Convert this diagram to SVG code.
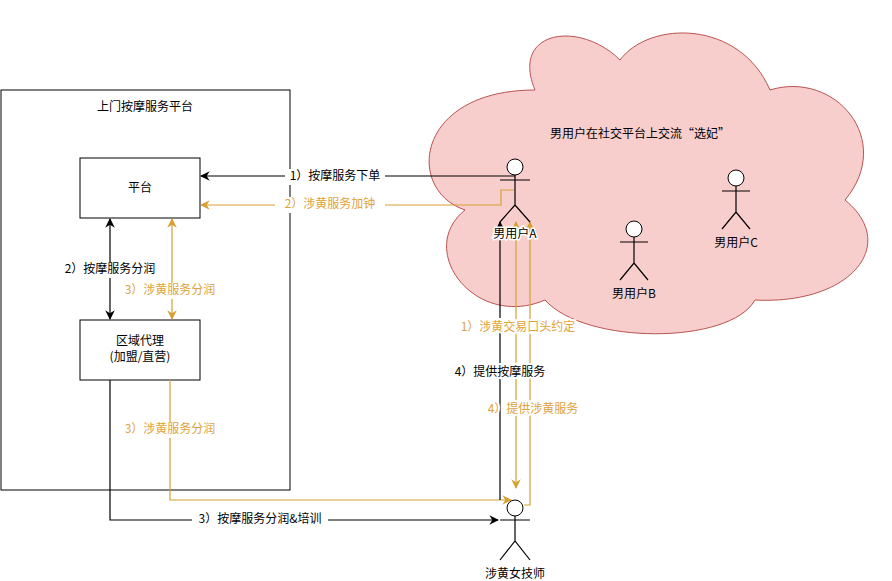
<svg xmlns="http://www.w3.org/2000/svg" width="892" height="581" viewBox="0 0 892 581">
<defs>
<style>
text{font-family:"Noto Sans CJK SC","Liberation Sans",sans-serif;font-size:12px;text-anchor:middle;dominant-baseline:middle}
.g{fill:#e0a33c}.k{fill:#000}
.box{fill:#fff;stroke:#000;stroke-width:1}
.lk{fill:none;stroke:#000;stroke-width:1.2}
.lg{fill:none;stroke:#d6a032;stroke-width:1.2}
.bg{fill:#fff}
.st{fill:none;stroke:#000;stroke-width:1.2}
</style>
<marker id="ak" viewBox="0 0 10 10" refX="9" refY="5" markerWidth="8" markerHeight="8" orient="auto-start-reverse"><path d="M0,0 L10,5 L0,10 L3,5z" fill="#000"/></marker>
<marker id="ag" viewBox="0 0 10 10" refX="9" refY="5" markerWidth="8" markerHeight="8" orient="auto-start-reverse"><path d="M0,0 L10,5 L0,10 L3,5z" fill="#d6a032"/></marker>
</defs>
<rect width="892" height="581" fill="#fff"/>
<g id="cloud">
<path d="M535,90 C415,90 405,190 465,210 C415,250 475,330 545,300 C585,345 730,345 755,300 C850,305 900,245 845,200 C895,140 835,70 770,90 C740,20 650,20 620,60 C580,20 510,30 535,90 Z" fill="#f8cecc" stroke="#b85450" stroke-width="1"/>
<text x="640" y="135">男用户在社交平台上交流“选妃”</text>
</g>
<g id="platform"><rect class="box" x="1" y="90" width="289" height="400"/><text x="145" y="108">上门按摩服务平台</text></g>
<g id="pingtai"><rect class="box" x="80" y="158" width="120" height="60"/><text x="140" y="189">平台</text></g>
<g id="agent"><rect class="box" x="80" y="320" width="120" height="60"/><text x="140" y="342">区域代理</text><text x="140" y="358">(加盟/直营)</text></g>
<g id="connectors">
<path class="lk" d="M515,176 H201" marker-end="url(#ak)"/>
<rect class="bg" x="285" y="169" width="100" height="16"/><text x="335" y="177">1）按摩服务下单</text>
<path class="lg" d="M514,190 H501 V205 H201" marker-end="url(#ag)"/>
<rect class="bg" x="275" y="197" width="110" height="16"/><text class="g" x="330" y="205">2）涉黄服务加钟</text>
<path class="lk" d="M110,219 V319" marker-start="url(#ak)" marker-end="url(#ak)"/>
<rect class="bg" x="60" y="262" width="100" height="16"/><text x="110" y="270">2）按摩服务分润</text>
<path class="lg" d="M172,219 V319" marker-start="url(#ag)" marker-end="url(#ag)"/>
<rect class="bg" x="115" y="283" width="110" height="16"/><text class="g" x="170" y="291">3）涉黄服务分润</text>
<path class="lk" d="M110,380 V520 H498" marker-end="url(#ak)"/>
<rect class="bg" x="192" y="512" width="136" height="16"/><text x="260" y="520">3）按摩服务分润&amp;培训</text>
<path class="lg" d="M170,380 V500 H511" marker-end="url(#ag)"/>
<rect class="bg" x="118" y="422" width="104" height="16"/><text class="g" x="170" y="430">3）涉黄服务分润</text>
<path class="lk" d="M500,500 V222" marker-end="url(#ak)"/>
<path class="lg" d="M516,222 V488" marker-start="url(#ag)" marker-end="url(#ag)"/>
<path class="lg" d="M524,505 H530 V222" marker-end="url(#ag)"/>
<text class="g" x="518" y="328" style="paint-order:stroke;stroke:#fff;stroke-width:4px">1）涉黄交易口头约定</text>
<text x="500" y="373" style="paint-order:stroke;stroke:#fff;stroke-width:4px">4）提供按摩服务</text>
<text class="g" x="533" y="410" style="paint-order:stroke;stroke:#fff;stroke-width:4px">4）提供涉黄服务</text>
</g>
<g id="userA"><circle cx="515" cy="167" r="8" fill="#fff" stroke="#000"/><path class="st" d="M515,175 V205 M500,180 H530 M500,222 L515,205 L530,222"/><text x="515" y="235" style="paint-order:stroke;stroke:#fff;stroke-width:3px">男用户A</text></g>
<g id="userB"><circle cx="634" cy="229" r="8" fill="#fff" stroke="#000"/><path class="st" d="M634,237 V263 M620,242 H648 M620,280 L634,263 L648,280"/><text x="634" y="295">男用户B</text></g>
<g id="userC"><circle cx="736" cy="178" r="8" fill="#fff" stroke="#000"/><path class="st" d="M736,186 V212 M722,191 H750 M722,229 L736,212 L750,229"/><text x="736" y="244">男用户C</text></g>
<g id="tech"><circle cx="515" cy="508" r="8" fill="#fff" stroke="#000"/><path class="st" d="M515,516 V541 M500,520 H530 M500,560 L515,541 L530,560"/><text x="515" y="575">涉黄女技师</text></g>
</svg>
